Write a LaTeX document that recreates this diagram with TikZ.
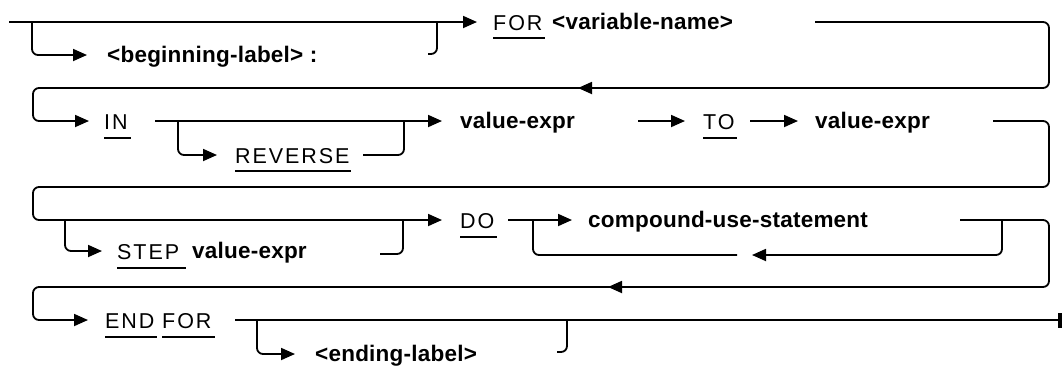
\documentclass[tikz,border=0pt]{standalone}
\usepackage{fontspec}
\setmainfont{Liberation Sans}
\newfontfamily\kwfont[LetterSpace=9]{Liberation Sans}
\newfontfamily\phfont[LetterSpace=1]{Liberation Sans}
\usetikzlibrary{arrows.meta}
\tikzset{
  rr/.style={line width=1.8pt, rounded corners=6pt},
  arr/.style={line width=1.8pt, rounded corners=6pt, -{Triangle[length=14pt,width=12pt]}},
  kw/.style={anchor=base west, inner sep=0pt, font=\kwfont\fontsize{21.5}{21.5}\selectfont},
  ph/.style={anchor=base west, inner sep=0pt, font=\phfont\bfseries\fontsize{22.5}{22.5}\selectfont},
  ul/.style={line width=1.8pt},
}
\begin{document}
\begin{tikzpicture}[x=1pt,y=-1pt]
\useasboundingbox (0,0) rectangle (1062,368);
% ---------- row 1
\node[ph] (blabel) at (107,62) {<beginning-label> :};
\node[kw] (for1) at (493,30) {FOR};
\node[ph] (varname) at (552,29.5) {<variable-name>};
\draw[ul] (for1.base west) ++(0,8) -- (545,38);
\draw[arr] (9,22) -- (477,22);
\draw[arr] (32,22) |- (87,55);
\draw[rr] (437,22) |- (428,54);
\draw[arr] (815,22) -| (1049,88) -| (33,121) -- (89,121);
\draw[arr] (592,88) -- (578,88);
% ---------- row 2
\node[kw] (in) at (104,129) {IN};
\draw[ul] (104,138) -- (131,138);
\draw[arr] (155,121) -- (442,121);
\draw[arr] (178,121) |- (217,155);
\node[kw] (rev) at (235,163) {REVERSE};
\draw[ul] (235,171) -- (351,171);
\draw[rr] (363,155) -| (404,121);
\node[ph] (ve1) at (460,128.5) {value-expr};
\draw[arr] (638,121) -- (685,121);
\node[kw] (to) at (703,129) {TO};
\draw[ul] (703,138) -- (737,138);
\draw[arr] (750,121) -- (798,121);
\node[ph] (ve2) at (815,128.5) {value-expr};
\draw[arr] (993,121) -| (1049,187) -| (33,220) -- (442,220);
% ---------- row 3
\draw[arr] (65,220) |- (102,251);
\node[kw] (step) at (117,259) {STEP};
\draw[ul] (117,268) -- (186,268);
\node[ph] (ve3) at (192,258.5) {value-expr};
\draw[rr] (380,254) -| (403,220);
\node[kw] (do) at (460,228) {DO};
\draw[ul] (460,237) -- (497,237);
\draw[arr] (508,220) -- (572,220);
\node[ph] (cus) at (588,227.5) {compound-use-statement};
\draw[rr] (1002,220) |- (766,255);
\draw[arr] (766,255) -- (752,255);
\draw[rr] (737,255) -| (533,220);
\draw[arr] (960,220) -| (1049,287) -| (33,320) -- (88,320);
\draw[arr] (622,287) -- (608,287);
% ---------- row 4
\node[kw] (end) at (105,328) {END};
\node[kw] (for2) at (162,328) {FOR};
\draw[ul] (105,337) -- (157,337);
\draw[ul] (162,337) -- (215,337);
\draw[ul] (235,320) -- (1058,320);
\fill (1058,313) rectangle (1062,328);
\draw[arr] (257,320) |- (295,354);
\node[ph] (elabel) at (315,361) {<ending-label>};
\draw[rr] (567,320) |- (557,352);
\end{tikzpicture}
\end{document}
